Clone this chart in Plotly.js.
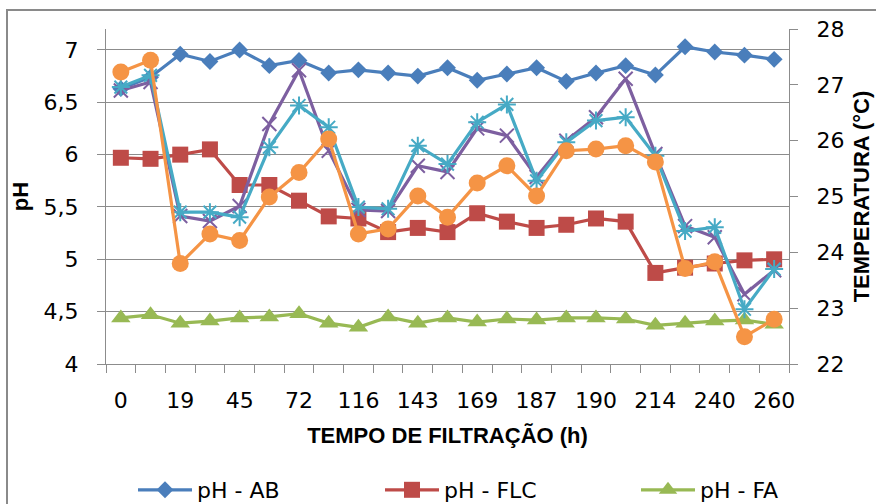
<!DOCTYPE html>
<html>
<head>
<meta charset="utf-8">
<script src="https://cdn.plot.ly/plotly-3.0.1.min.js"></script>
<style>html,body{margin:0;padding:0;background:#fff;}#chart{width:876px;height:504px;}</style>
</head>
<body>
<div id="chart"></div>
<script>
// category index positions (23 sampling times; every other one labelled)
const xIndex = [0,1,2,3,4,5,6,7,8,9,10,11,12,13,14,15,16,17,18,19,20,21,22];
const tickIndex = [0,2,4,6,8,10,12,14,16,18,20,22];
const tickLabels = ['0','19','45','72','116','143','169','187','190','214','240','260'];

const phAB  = [6.63,6.74,6.96,6.89,7.00,6.85,6.90,6.78,6.81,6.78,6.75,6.83,6.71,6.77,6.83,6.70,6.78,6.85,6.76,7.03,6.98,6.95,6.91];
const phFLC = [5.97,5.96,6.00,6.05,5.71,5.71,5.56,5.41,5.39,5.26,5.30,5.26,5.44,5.36,5.30,5.33,5.39,5.36,4.87,4.92,4.96,4.99,5.00];
const phFA  = [4.44,4.47,4.39,4.41,4.44,4.45,4.48,4.39,4.35,4.45,4.39,4.44,4.40,4.43,4.42,4.44,4.44,4.43,4.37,4.39,4.41,4.42,4.38];
const tAB   = [26.90,27.05,24.65,24.56,24.83,26.30,27.26,25.82,24.76,24.74,25.55,25.44,26.22,26.09,25.35,26.00,26.42,27.11,25.76,24.47,24.27,23.25,23.68];
const tFLC  = [26.96,27.17,24.72,24.72,24.63,25.88,26.63,26.24,24.81,24.78,25.91,25.58,26.33,26.65,25.28,25.97,26.36,26.42,25.73,24.38,24.45,22.98,23.70];
const tFA   = [27.23,27.44,23.80,24.33,24.21,24.99,25.43,26.03,24.33,24.42,25.01,24.63,25.24,25.55,25.01,25.82,25.85,25.91,25.62,23.71,23.83,22.49,22.80];

const FONT = 'DejaVu Sans, Liberation Sans, sans-serif';
const TFONT = 'Liberation Sans, Arial, sans-serif';
const GRID = '#8c8c8c';

function tr(name, y, color, symbol, size, axis, legend, open) {
  const t = {
    type: 'scatter', mode: 'lines+markers', name: name,
    x: xIndex, y: y, yaxis: axis, showlegend: !!legend,
    line: {color: color, width: 3.2},
    marker: open ? {symbol: symbol, size: size, color: color, line: {color: color, width: 2}}
                 : {symbol: symbol, size: size, color: color, line: {width: 0}}
  };
  if (legend) t.legend = legend;
  return t;
}

const data = [
  tr('pH - AB', phAB, '#4A7EBB', 'diamond', 13, 'y', 'legend', false),
  tr('pH - FLC', phFLC, '#BE4B48', 'square', 16, 'y', 'legend2', false),
  tr('pH - FA', phFA, '#98B954', 'triangle-up', 17, 'y', 'legend3', false),
  tr('T - AB', tAB, '#7D5FA0', 'x-thin-open', 14, 'y2', null, true),
  tr('T - FLC', tFLC, '#46AAC5', 'asterisk-open', 15, 'y2', null, true),
  tr('T - FA', tFA, '#F59445', 'circle', 17, 'y2', null, false)
];

function leg(px) {
  return {
    orientation: 'h', xref: 'container', yref: 'container',
    x: px / 876, xanchor: 'left', y: (504 - 490) / 504, yanchor: 'middle',
    font: {family: FONT, size: 22, color: '#000'}, itemwidth: 54,
    bgcolor: 'rgba(0,0,0,0)'
  };
}

const layout = {
  width: 876, height: 504,
  margin: {l: 106, r: 87, t: 29, b: 140, autoexpand: false},
  paper_bgcolor: '#ffffff', plot_bgcolor: '#ffffff',
  separators: ',.',
  font: {family: FONT, size: 22, color: '#000'},
  showlegend: true,
  legend: leg(133),
  legend2: leg(380),
  legend3: leg(636),
  xaxis: {
    range: [-0.5, 22.5], tickmode: 'array', tickvals: tickIndex, ticktext: tickLabels,
    ticks: '', ticklabelstandoff: 17, automargin: false,
    showgrid: false, zeroline: false,
    showline: true, linecolor: GRID, linewidth: 1,
    minor: {tick0: -0.5, dtick: 1, ticks: 'outside', ticklen: 8, tickcolor: GRID, tickwidth: 1, showgrid: false},
    tickfont: {family: FONT, size: 22, color: '#000'},
    title: {text: '<b>TEMPO DE FILTRAÇÃO (h)</b>', font: {family: TFONT, size: 22, color: '#000'}, standoff: 15}
  },
  yaxis: {
    range: [4, 7.2], tickmode: 'array', tickvals: [4,4.5,5,5.5,6,6.5,7],
    ticktext: ['4','4,5','5','5,5','6','6,5','7'], automargin: false,
    ticks: 'outside', ticklen: 8, tickcolor: GRID, ticklabelstandoff: 14,
    showgrid: true, gridcolor: GRID, gridwidth: 1, zeroline: false,
    showline: true, linecolor: GRID, linewidth: 1,
    tickfont: {family: FONT, size: 22, color: '#000'},
    title: {text: '<b>pH</b>', font: {family: TFONT, size: 22, color: '#000'}, standoff: 8}
  },
  yaxis2: {
    overlaying: 'y', side: 'right', range: [22, 28], dtick: 1, tick0: 22, automargin: false,
    ticks: 'outside', ticklen: 8, tickcolor: GRID, ticklabelstandoff: 14,
    showgrid: false, zeroline: false,
    showline: true, linecolor: GRID, linewidth: 1,
    tickfont: {family: FONT, size: 22, color: '#000'},
    title: {text: '<b>TEMPERATURA (°C)</b>', font: {family: TFONT, size: 22, color: '#000'}, standoff: 10}
  },
  shapes: [{
    type: 'rect', xref: 'paper', yref: 'paper',
    x0: (7 - 106) / 683, x1: (900 - 106) / 683,
    y0: (364 - 530) / 335, y1: (364 - 10) / 335,
    line: {color: '#8a8a8a', width: 2}, fillcolor: 'rgba(0,0,0,0)', layer: 'below'
  }]
};

Plotly.newPlot('chart', data, layout, {staticPlot: true, displayModeBar: false});
</script>
</body>
</html>
